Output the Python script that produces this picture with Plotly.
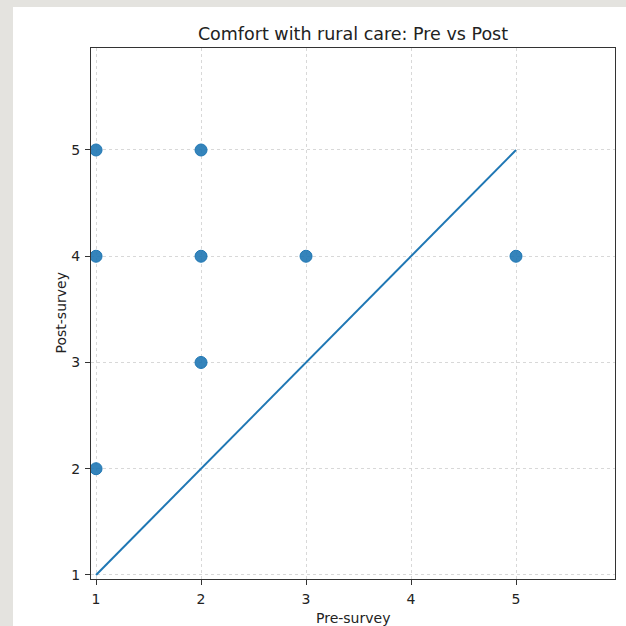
import plotly.graph_objects as go

pre = [1, 2, 1, 2, 3, 5, 2, 1]
post = [5, 5, 4, 4, 4, 4, 3, 2]
ref_line = [1, 5]
ticks = [1, 2, 3, 4, 5]

W, H = 626, 626
L, R, T, B = 91, 11, 48, 47
pw, ph = W - L - R, H - T - B

fig = go.Figure()
fig.add_trace(go.Scatter(x=ref_line, y=ref_line, mode="lines",
                         line=dict(color="#1f77b4", width=2), showlegend=False))
fig.add_trace(go.Scatter(x=pre, y=post, mode="markers",
                         marker=dict(size=12, color="rgba(31,119,180,0.9)",
                                     line=dict(width=1, color="#1f77b4")),
                         showlegend=False))

# white figure panel over grey page background
fig.add_shape(type="rect", xref="paper", yref="paper", layer="below",
              x0=(13 - L) / pw, x1=(W - L) / pw + 0.05,
              y0=-B / ph - 0.05, y1=(H - B - 7) / ph,
              fillcolor="white", line=dict(width=0))

axis_common = dict(
    tickvals=ticks, ticktext=[str(t) for t in ticks],
    showgrid=True, gridcolor="#d8d8d8", griddash="dot", gridwidth=1,
    zeroline=False, showline=True, linecolor="#333333", linewidth=1.2,
    mirror=True, ticks="outside", ticklen=5, tickcolor="#333333",
    tickfont=dict(size=14, color="#222222"), automargin=False,
    ticklabelstandoff=2,
)

fig.add_annotation(text="Pre-survey", xref="paper", yref="paper",
                   x=0.5, y=-(618 - (H - B)) / ph, xanchor="center", yanchor="middle",
                   showarrow=False, font=dict(size=14, color="#222222"))
fig.add_annotation(text="Post-survey", xref="paper", yref="paper", textangle=-90,
                   x=(60 - L) / pw, y=0.5, xanchor="center", yanchor="middle",
                   showarrow=False, font=dict(size=14, color="#222222"))

fig.update_layout(
    width=W, height=H,
    margin=dict(l=L, r=R, t=T, b=B, autoexpand=False),
    paper_bgcolor="#e4e3df", plot_bgcolor="white",
    font=dict(family="DejaVu Sans", color="#222222"),
    title=dict(text="Comfort with rural care: Pre vs Post", x=0.5,
               xref="paper", y=1 - 34 / H, yanchor="middle",
               font=dict(size=17.5, color="#222222")),
    xaxis=dict(range=[0.952, 5.943], **axis_common),
    yaxis=dict(range=[0.962, 5.96], **axis_common),
)

fig.write_html("out.html", config={"displayModeBar": False},
               post_script="document.body.style.margin='0';document.body.style.background='#e4e3df';")
